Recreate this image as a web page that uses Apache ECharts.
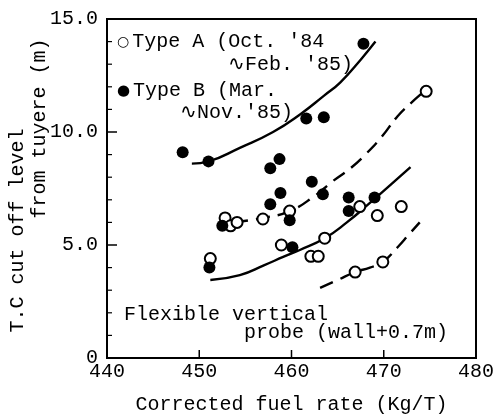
<!DOCTYPE html>
<html>
<head>
<meta charset="utf-8">
<script src="https://cdn.jsdelivr.net/npm/echarts@6/dist/echarts.min.js"></script>
<style>
  html, body { margin: 0; padding: 0; background: #fff; }
  #main { width: 496px; height: 416px; }
</style>
</head>
<body>
<div id="main"></div>
<script>
// measured points, [fuel rate, cut off level]
var typeA = [
    [451.2, 4.4], [452.8, 6.2], [453.4, 5.85], [454.1, 6.0], [456.9, 6.15],
    [458.9, 5.0], [459.8, 6.5], [462.1, 4.5], [462.9, 4.5], [463.6, 5.3],
    [466.9, 3.8], [467.4, 6.7], [469.3, 6.3], [469.9, 4.25], [471.9, 6.7],
    [474.6, 11.8]
];
var typeB = [
    [448.2, 9.1], [451.0, 8.7], [451.1, 4.0], [452.5, 5.85], [457.7, 8.4],
    [458.7, 8.8], [458.8, 7.3], [457.7, 6.8], [459.8, 6.1], [460.1, 4.9],
    [461.6, 10.6], [463.5, 10.65], [462.2, 7.8], [463.4, 7.25], [466.2, 7.1],
    [466.2, 6.5], [469.0, 7.1], [467.8, 13.9]
];

// hand drawn trend curves
var upperSolid = [
    [449.2, 8.6], [451.0, 8.7], [454.4, 9.3], [458.0, 10.0], [461.0, 10.8],
    [463.5, 11.6], [465.3, 12.2], [467.5, 13.2], [469.1, 14.0]
];
var upperDashed = [
    [453.8, 6.0], [456.9, 6.2], [459.8, 6.5], [462.6, 7.2], [464.4, 7.8],
    [466.4, 8.4], [468.0, 9.0], [469.8, 9.8], [471.5, 10.7], [473.0, 11.3],
    [474.4, 11.8]
];
var lowerSolid = [
    [451.2, 3.45], [454.4, 3.67], [457.0, 4.1], [459.1, 4.47], [460.9, 4.78],
    [463.6, 5.3], [466.0, 6.0], [468.5, 6.86], [470.7, 7.65], [472.9, 8.45]
];
var lowerDashed = [
    [463.1, 3.1], [465.0, 3.45], [466.9, 3.8], [468.5, 4.0], [469.9, 4.25],
    [471.5, 4.9], [472.8, 5.5], [473.9, 6.0]
];

// axis ranges and tick positions
var xRange = [440, 480];
var yRange = [0, 15];
var xTicks = [450, 460, 470];
var yTicks = [1, 2, 3, 4, 5, 6, 7, 8, 9, 10, 11, 12, 13, 14];

var FONT = '"Liberation Mono", "DejaVu Sans Mono", monospace';

var chartDom = document.getElementById('main');
var myChart = echarts.init(chartDom);

function curve(data, dashed) {
    return {
        type: 'line',
        data: data,
        smooth: true,
        showSymbol: false,
        silent: true,
        z: 2,
        lineStyle: {
            color: '#000',
            width: 2.4,
            type: dashed ? [14, 8] : 'solid'
        }
    };
}

// plain text blocks (legend lines, note)
function note(text, left, top) {
    return {
        text: text,
        left: left,
        top: top,
        padding: 0,
        textStyle: {
            fontFamily: FONT,
            fontSize: 20,
            fontWeight: 'normal',
            lineHeight: 22,
            color: '#000',
            rich: {
                o: { fontFamily: 'DejaVu Sans', fontSize: 14, color: '#000', padding: [0, 3, 0, 0] },
                f: { fontFamily: 'DejaVu Sans', fontSize: 15, color: '#000', padding: [0, 3, 0, 0] }
            }
        }
    };
}

// plot frame and inward ticks, placed through the axes
function renderFrame(params, api) {
    var p0 = api.coord([xRange[0], yRange[0]]);
    var p1 = api.coord([xRange[1], yRange[1]]);
    var children = [{
        type: 'rect',
        shape: { x: p0[0], y: p1[1], width: p1[0] - p0[0], height: p0[1] - p1[1] },
        style: { fill: 'none', stroke: '#000', lineWidth: 2 }
    }];
    xTicks.forEach(function (v) {
        var p = api.coord([v, yRange[0]]);
        children.push({
            type: 'line',
            shape: { x1: p[0], y1: p[1], x2: p[0], y2: p[1] - 8 },
            style: { stroke: '#000', lineWidth: 1.5 }
        });
    });
    yTicks.forEach(function (v) {
        var p = api.coord([xRange[0], v]);
        var len = v % 5 === 0 ? 10 : 5;
        children.push({
            type: 'line',
            shape: { x1: p[0], y1: p[1], x2: p[0] + len, y2: p[1] },
            style: { stroke: '#000', lineWidth: v % 5 === 0 ? 1.5 : 1.2 }
        });
    });
    return { type: 'group', children: children };
}

var option = {
    animation: false,
    grid: {
        left: 107,
        right: 20,
        top: 19,
        bottom: 58,
        outerBoundsMode: 'none',
        containLabel: false
    },
    title: [
        note("{o|\u25CB}Type A (Oct. '84", 117, 31),
        note("\u223FFeb. '85)", 228, 54),
        note('{f|\u25CF}Type B (Mar.', 117, 80),
        note("\u223FNov.'85)", 180, 102),
        note('Flexible vertical', 124, 304),
        note('probe (wall+0.7m)', 244, 322)
    ],
    xAxis: {
        type: 'value',
        min: xRange[0],
        max: xRange[1],
        interval: 10,
        name: 'Corrected fuel rate (Kg/T)',
        nameLocation: 'middle',
        nameGap: 37,
        nameMoveOverlap: false,
        nameTextStyle: { fontFamily: FONT, fontSize: 20, color: '#000' },
        axisLine: { show: false },
        axisTick: { show: false },
        axisLabel: { fontFamily: FONT, fontSize: 20, color: '#000', margin: 4 },
        splitLine: { show: false }
    },
    yAxis: [
        {
            type: 'value',
            min: yRange[0],
            max: yRange[1],
            interval: 5,
            name: 'T.C cut off level       ',
            nameLocation: 'middle',
            nameGap: 79,
            nameMoveOverlap: false,
            nameTextStyle: { fontFamily: FONT, fontSize: 20, lineHeight: 20, color: '#000' },
            axisLine: { show: false },
            axisTick: { show: false },
            axisLabel: {
                fontFamily: FONT,
                fontSize: 20,
                color: '#000',
                margin: 9,
                formatter: function (v) {
                    return v === 0 ? '0' : v.toFixed(1);
                }
            },
            splitLine: { show: false }
        },
        {
            // carries the second name line
            type: 'value',
            position: 'left',
            offset: 0,
            min: yRange[0],
            max: yRange[1],
            interval: 5,
            name: '          from tuyere (m)',
            nameLocation: 'middle',
            nameGap: 57,
            nameMoveOverlap: false,
            nameTextStyle: { fontFamily: FONT, fontSize: 20, lineHeight: 20, color: '#000' },
            axisLine: { show: false },
            axisTick: { show: false },
            axisLabel: { show: false },
            splitLine: { show: false }
        }
    ],
    series: [
        {
            type: 'custom',
            renderItem: renderFrame,
            data: [[xRange[0], yRange[0]]],
            clip: false,
            silent: true,
            z: 1
        },
        curve(upperSolid, false),
        curve(upperDashed, true),
        curve(lowerSolid, false),
        curve(lowerDashed, true),
        {
            name: 'Type A',
            type: 'scatter',
            data: typeA,
            symbol: 'circle',
            symbolSize: 11,
            z: 3,
            itemStyle: { color: '#fff', borderColor: '#000', borderWidth: 2, opacity: 1 }
        },
        {
            name: 'Type B',
            type: 'scatter',
            data: typeB,
            symbol: 'circle',
            symbolSize: 12,
            z: 4,
            itemStyle: { color: '#000', opacity: 1 }
        }
    ]
};

option && myChart.setOption(option);
</script>
</body>
</html>
